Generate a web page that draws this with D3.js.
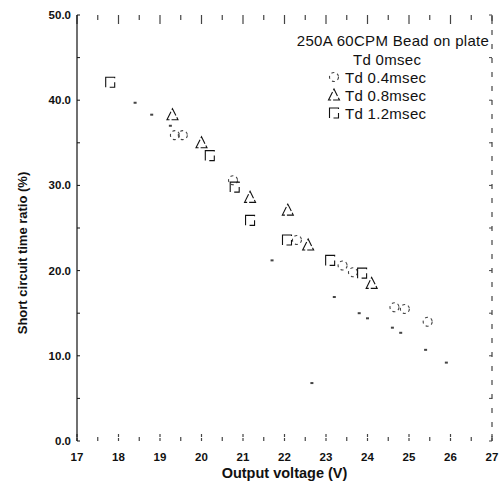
<!DOCTYPE html>
<html>
<head>
<meta charset="utf-8">
<script src="https://cdn.jsdelivr.net/npm/d3@7"></script>
<style>
  body { margin: 0; background: #fff; }
  text { font-family: "Liberation Sans", Arial, sans-serif; }
</style>
</head>
<body>
<div id="chart"></div>
<script>
// data
var x_ticks = [17, 18, 19, 20, 21, 22, 23, 24, 25, 26, 27];
var y_ticks = [0, 10, 20, 30, 40, 50];

var td0_volt  = [18.4, 18.8, 19.25, 21.7, 22.66, 23.2, 23.8, 24.0, 24.6, 24.8, 25.4, 25.9];
var td0_ratio = [39.7, 38.3, 37.0, 21.2, 6.8, 16.9, 15.0, 14.4, 13.3, 12.7, 10.7, 9.2];

var td04_volt  = [19.36, 19.55, 20.76, 22.3, 23.4, 23.65, 24.65, 24.9, 25.45];
var td04_ratio = [35.9, 35.9, 30.6, 23.6, 20.6, 19.8, 15.7, 15.5, 14.0];

var td08_volt  = [19.3, 20.0, 21.17, 22.08, 22.57, 24.1];
var td08_ratio = [38.3, 35.0, 28.6, 27.1, 23.0, 18.5];

var td12_volt  = [17.8, 20.2, 20.8, 21.17, 22.06, 23.1, 23.87];
var td12_ratio = [42.1, 33.5, 29.8, 25.9, 23.6, 21.2, 19.7];

var legend_title = "250A 60CPM Bead on plate";
var legend_names = ["Td 0msec", "Td 0.4msec", "Td 0.8msec", "Td 1.2msec"];

var width = 500, height = 483;
var margin = {"left": 77, "right": 8, "top": 15, "down": 42};
var ink = "#111";
var faded = "#444";

var svg = d3.select('#chart').append('svg')
    .attr('width', width)
    .attr('height', height);

var x = d3.scaleLinear().domain([17, 27]).range([margin.left, width - margin.right]);
var y = d3.scaleLinear().domain([0, 50]).range([height - margin.down, margin.top]);

//bottom ticks (pointing up) and labels
var half_steps = d3.range(17, 27.01, 0.5);
svg.selectAll('.tick_bottom')
    .data(half_steps)
    .enter()
    .append('line')
    .attr('x1', function(d){ return x(d); })
    .attr('x2', function(d){ return x(d); })
    .attr('y1', y(0))
    .attr('y2', function(d){ return y(0) - (d % 1 == 0 ? 8 : 4); })
    .style('stroke', faded)
    .style('stroke-width', 1.2)
    .style('stroke-dasharray', function(d){ return d % 1 == 0 ? '3,1' : null; });

//top ticks (pointing down)
svg.selectAll('.tick_top')
    .data(half_steps)
    .enter()
    .append('line')
    .attr('x1', function(d){ return x(d); })
    .attr('x2', function(d){ return x(d); })
    .attr('y1', y(50))
    .attr('y2', function(d){ return y(50) + (d % 1 == 0 ? 9 : 5); })
    .style('stroke', faded)
    .style('stroke-width', 1.2);

svg.selectAll('.x_label')
    .data(x_ticks)
    .enter()
    .append('text')
    .attr('x', function(d){ return x(d); })
    .attr('y', y(0) + 20)
    .attr('text-anchor', 'middle')
    .attr('font-size', '11.5px')
    .attr('font-weight', 'bold')
    .attr('fill', ink)
    .text(function(d){ return d; });

//left axis line and ticks
svg.append('line')
    .attr('x1', x(17)).attr('x2', x(17))
    .attr('y1', y(0)).attr('y2', y(50))
    .style('stroke', ink)
    .style('stroke-width', 1.2);

svg.selectAll('.tick_left')
    .data(d3.range(0, 50.01, 5))
    .enter()
    .append('line')
    .attr('x1', x(17))
    .attr('x2', x(17) + 3)
    .attr('y1', function(d){ return y(d); })
    .attr('y2', function(d){ return y(d); })
    .style('stroke', ink);

svg.selectAll('.y_label')
    .data(y_ticks)
    .enter()
    .append('text')
    .attr('x', x(17) - 6)
    .attr('y', function(d){ return y(d) + 4; })
    .attr('text-anchor', 'end')
    .attr('font-size', '11.5px')
    .attr('font-weight', 'bold')
    .attr('fill', ink)
    .text(function(d){ return d3.format('.1f')(d); });

//right axis, broken up in the scan
svg.append('line')
    .attr('x1', x(27)).attr('x2', x(27))
    .attr('y1', y(0)).attr('y2', y(50))
    .style('stroke', faded)
    .style('stroke-width', 1.2)
    .style('stroke-dasharray', '5,9');

svg.selectAll('.tick_right')
    .data(d3.range(0, 50.01, 5))
    .enter()
    .append('line')
    .attr('x1', x(27))
    .attr('x2', x(27) - 3)
    .attr('y1', function(d){ return y(d); })
    .attr('y2', function(d){ return y(d); })
    .style('stroke', faded);

//axis titles
svg.append('text')
    .attr('x', (x(17) + x(27)) / 2)
    .attr('y', height - 5)
    .attr('text-anchor', 'middle')
    .attr('font-size', '14.5px')
    .attr('font-weight', 'bold')
    .attr('fill', ink)
    .text('Output voltage (V)');

svg.append('text')
    .attr('transform', 'translate(27,253) rotate(-90)')
    .attr('text-anchor', 'middle')
    .attr('font-size', '13px')
    .attr('font-weight', 'bold')
    .attr('fill', ink)
    .text('Short circuit time ratio (%)');

//markers
function pairs(vx, vy){ return vx.map(function(v, i){ return {'x': v, 'y': vy[i]}; }); }

function draw_marker(g, kind, cx, cy){
    if(kind == 'dot'){
        g.append('rect').attr('x', cx - 1.5).attr('y', cy - 1).attr('width', 3).attr('height', 2)
            .attr('fill', faded);
    }
    else if(kind == 'circle'){
        g.append('circle').attr('cx', cx).attr('cy', cy).attr('r', 4.5)
            .attr('fill', 'none').style('stroke', faded).style('stroke-width', 1.1)
            .style('stroke-dasharray', '3,3');
    }
    else if(kind == 'triangle'){
        g.append('path')
            .attr('d', 'M' + (cx - 5.5) + ',' + (cy + 5) + ' L' + cx + ',' + (cy - 6) + ' L' + (cx + 5.5) + ',' + (cy + 5) + ' Z')
            .attr('fill', 'none').style('stroke', ink).style('stroke-width', 1.1)
            .style('stroke-dasharray', '9,2');
    }
    else {
        g.append('rect').attr('x', cx - 4.5).attr('y', cy - 5).attr('width', 9).attr('height', 10)
            .attr('fill', 'none').style('stroke', ink).style('stroke-width', 1.1)
            .style('stroke-dasharray', '10,4');
    }
}

var series = [
    {'kind': 'dot', 'data': pairs(td0_volt, td0_ratio)},
    {'kind': 'circle', 'data': pairs(td04_volt, td04_ratio)},
    {'kind': 'triangle', 'data': pairs(td08_volt, td08_ratio)},
    {'kind': 'square', 'data': pairs(td12_volt, td12_ratio)}
];

var marks = svg.append('g');
series.forEach(function(s){
    s.data.forEach(function(d){ draw_marker(marks, s.kind, x(d.x), y(d.y)); });
});

//legend
svg.append('text')
    .attr('x', 393)
    .attr('y', 46)
    .attr('text-anchor', 'middle')
    .attr('font-size', '15px')
    .attr('letter-spacing', '0.3px')
    .attr('fill', ink)
    .text(legend_title);

var legend = svg.selectAll('.legend_row')
    .data(legend_names)
    .enter()
    .append('g')
    .attr('transform', function(d, i){ return 'translate(0,' + (59 + i * 18) + ')'; });

legend.append('text')
    .attr('x', function(d, i){ return i == 0 ? 353 : 345; })
    .attr('y', 5.5)
    .attr('font-size', '15px')
    .attr('letter-spacing', '0.3px')
    .attr('fill', ink)
    .text(function(d){ return d; });

legend.each(function(d, i){
    if(i > 0) draw_marker(d3.select(this), series[i].kind, 334, 0);
});
</script>
</body>
</html>
